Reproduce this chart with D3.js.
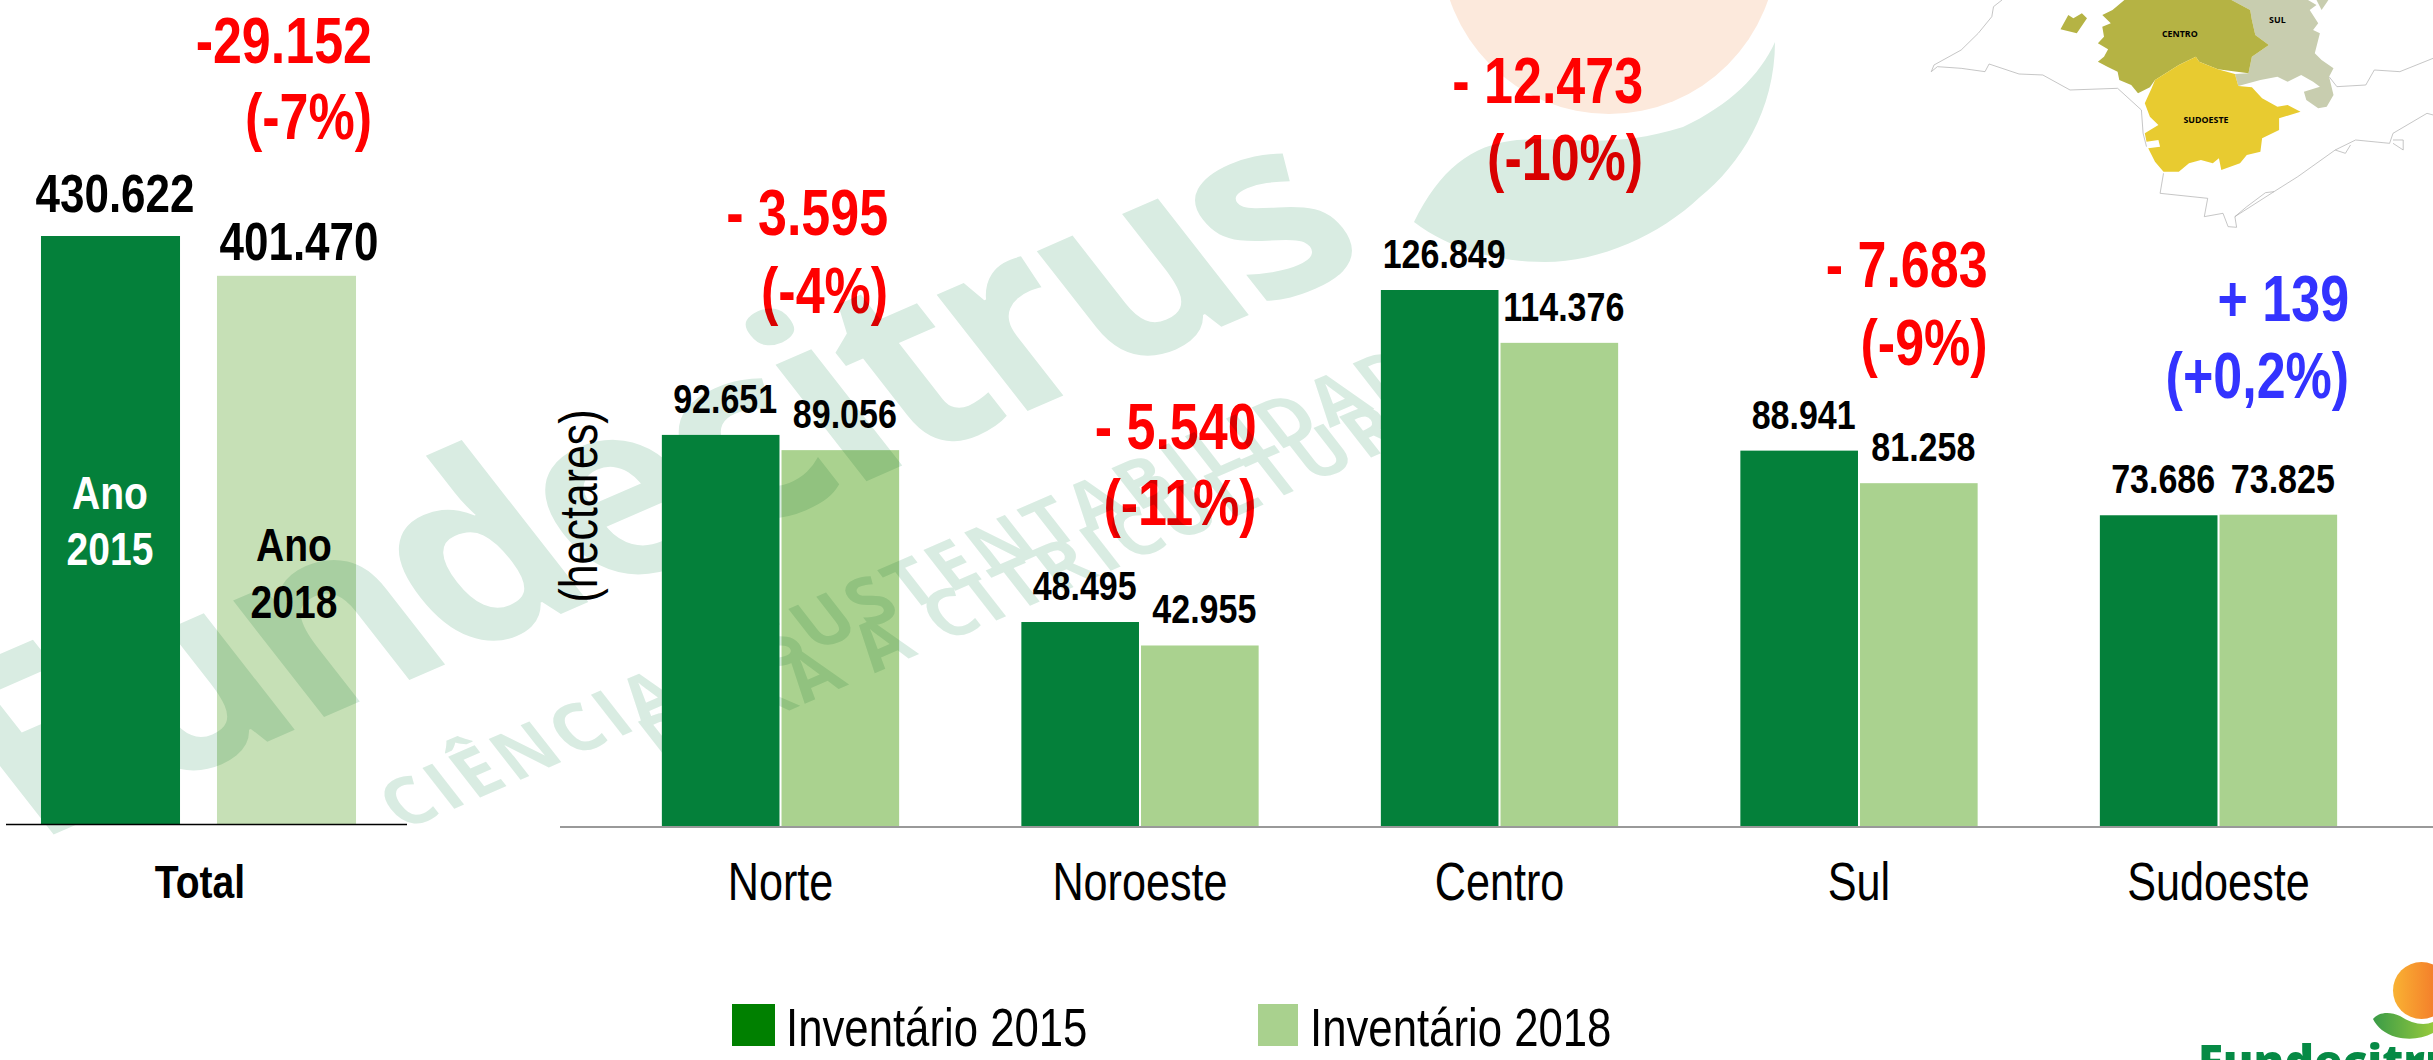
<!DOCTYPE html>
<html>
<head>
<meta charset="utf-8">
<script src="https://cdn.jsdelivr.net/npm/d3@7"></script>
<style>
  html, body { margin: 0; padding: 0; background: #fff; overflow: hidden; }
  text { font-family: "Liberation Sans", Arial, sans-serif; }
</style>
</head>
<body>
<script>
// the numbers
const totalCategories = ["Total"];
const regions = ["Norte", "Noroeste", "Centro", "Sul", "Sudoeste"];
const years = ["2015", "2018"];
const total2015 = [430622];
const total2018 = [401470];
const inventario2015 = [92651, 48495, 126849, 88941, 73686];
const inventario2018 = [89056, 42955, 114376, 81258, 73825];
const totalDelta = ["-29.152", "(-7%)"];
const regionDelta = ["- 3.595", "- 5.540", "- 12.473", "- 7.683", "+ 139"];
const regionPct = ["(-4%)", "(-11%)", "(-10%)", "(-9%)", "(+0,2%)"];
const legendLabels = ["Inventário 2015", "Inventário 2018"];

// where the delta labels sit, relative to the right end of each group
const deltaDx = [-12, -3, 24, 9, 11];
const deltaBase = [235, 449, 103, 287, 321];
const pctBase = [313, 525, 180, 365, 398];

const width = 2433, height = 1060;
const dark = "#04803a", lightTotal = "#c6e0b6", lightRegion = "#aad28f";
const wmColor = "#d9ece2";

const svg = d3.select("body").append("svg")
  .attr("width", width).attr("height", height)
  .style("display", "block").style("background", "#fff");

// text is narrow in the original, so squeeze it sideways
const label = (parent, txt, x, y, size, opts) => {
  opts = opts || {};
  return parent.append("text")
    .attr("transform", `translate(${x},${y}) scale(${opts.sx || 0.83},1)`)
    .attr("text-anchor", opts.anchor || "middle")
    .attr("font-size", size)
    .attr("font-weight", opts.weight || "bold")
    .attr("fill", opts.fill || "#000")
    .text(txt);
};

// scales
const x0Total = d3.scaleBand().domain(totalCategories).range([22.5, 374.5]);
const x1Total = d3.scaleBand().domain(years).range([0, x0Total.bandwidth()])
  .paddingInner(0.21).paddingOuter(0.105);
const yTotal = d3.scaleLinear().domain([0, 430622]).range([824, 236]);

const x0 = d3.scaleBand().domain(regions).range([600.75, 2398.25])
  .paddingInner(0.34).paddingOuter(0.17);
const x1 = d3.scaleBand().domain(years).range([0, x0.bandwidth()]).paddingInner(0.017);
const y = d3.scaleLinear().domain([0, 126849]).range([827.5, 290]);

const totalRows = [
  {year: "2015", value: total2015[0]},
  {year: "2018", value: total2018[0]}
];
const regionRows = regions.flatMap((r, i) => [
  {region: r, year: "2015", value: inventario2015[i]},
  {region: r, year: "2018", value: inventario2018[i]}
]);

// faded logo behind everything
const back = svg.append("g");
back.append("circle").attr("cx", 1609).attr("cy", -54).attr("r", 168).attr("fill", "#fce9dc");

// map, traced in crop pixels
const mapG = svg.append("g").attr("transform", "translate(1900,0) scale(0.34,0.3333)");
const shape = (pts, fill) => mapG.append("path")
  .attr("d", d3.line().curve(d3.curveLinearClosed)(pts)).attr("fill", fill);
const wire = (pts) => mapG.append("path")
  .attr("d", d3.line()(pts)).attr("fill", "none").attr("stroke", "#aaa").attr("stroke-width", 2);
wire([[92,215],[100,195],[180,150],[230,100],[270,50],[275,20],[300,0]]);
wire([[92,215],[110,200],[180,205],[250,215],[262,192],[350,222],[420,225],[500,270],[640,265],[710,330],[715,400],[725,440]]);
wire([[775,520],[765,580],[905,595],[895,650],[950,640],[965,680],[990,682],[985,650],[1100,575],[1170,530],[1280,450],[1340,420],[1440,430],[1450,400],[1550,340],[1568,345]]);
wire([[1262,230],[1285,260],[1370,255],[1395,210],[1470,215],[1568,175]]);
wire([[1450,430],[1480,450],[1480,420],[1450,420]]);
wire([[1280,450],[1310,460],[1325,435]]);
wire([[985,650],[1020,620],[1075,578],[1100,575]]);
shape([[975,0],[1030,30],[1035,60],[1045,105],[1085,135],[1035,170],[1025,220],[985,222],[995,258],[1060,240],[1110,230],[1140,245],[1180,225],[1215,245],[1235,260],[1188,275],[1195,300],[1230,325],[1255,320],[1275,285],[1262,230],[1275,205],[1240,180],[1220,160],[1235,100],[1215,90],[1230,70],[1205,30],[1225,15],[1200,0]], "#c8cdaf");
shape([[1225,0],[1260,0],[1240,30]], "#c8cdaf");
shape([[660,0],[625,30],[595,45],[620,70],[595,80],[600,110],[582,130],[612,148],[600,170],[582,185],[610,200],[640,215],[645,240],[680,255],[700,280],[735,262],[750,240],[820,195],[870,170],[880,185],[935,208],[1025,220],[1035,170],[1085,135],[1045,105],[1035,60],[1030,30],[975,0]], "#b5b344");
shape([[495,45],[510,55],[535,40],[550,55],[520,100],[472,88]], "#b5b344");
shape([[870,170],[880,185],[935,208],[985,222],[995,258],[1035,262],[1065,295],[1110,320],[1140,315],[1178,335],[1115,355],[1115,390],[1065,415],[1060,455],[1020,465],[1000,490],[945,510],[938,475],[920,490],[885,480],[850,490],[820,515],[775,515],[750,485],[730,445],[765,440],[760,420],[725,425],[720,400],[760,375],[735,350],[720,310],[740,265],[750,240],[820,195]], "#e8cb30");
[["CENTRO", 823, 111], ["SUL", 1110, 70], ["SUDOESTE", 900, 368]].forEach(d => {
  mapG.append("text").attr("x", d[1]).attr("y", d[2]).attr("text-anchor", "middle")
    .attr("font-size", 26).attr("font-weight", "bold")
    .style("font-family", "'Open Sans'").text(d[0]);
});

// light bars
svg.append("g").selectAll("rect").data(totalRows.filter(d => d.year == "2018")).enter().append("rect")
  .attr("x", d => x0Total("Total") + x1Total(d.year))
  .attr("y", d => yTotal(d.value))
  .attr("width", x1Total.bandwidth())
  .attr("height", d => yTotal(0) - yTotal(d.value))
  .attr("fill", lightTotal);
svg.append("g").selectAll("rect").data(regionRows.filter(d => d.year == "2018")).enter().append("rect")
  .attr("x", d => x0(d.region) + x1(d.year))
  .attr("y", d => y(d.value))
  .attr("width", x1.bandwidth())
  .attr("height", d => y(0) - y(d.value))
  .attr("fill", lightRegion);

// all the text that the watermark tints
const texts = svg.append("g");
const fmt = d3.format(",d");
const pt = v => fmt(v).replace(/,/g, ".");

label(texts, pt(total2015[0]), 115, 212, 53);
label(texts, pt(total2018[0]), 299, 260, 53);
label(texts, "Ano", 294, 561, 47);
label(texts, "2018", 294, 618, 47);
label(texts, totalDelta[0], 372, 62.5, 65, {anchor: "end", sx: 0.8, fill: "#ff0000"});
label(texts, totalDelta[1], 372, 139, 65, {anchor: "end", sx: 0.8, fill: "#ff0000"});

regionRows.forEach(d => {
  label(texts, pt(d.value), x0(d.region) + x1(d.year) + x1.bandwidth() / 2 + 4.5, y(d.value) - 22, 41);
});
regions.forEach((r, i) => {
  const right = x0(r) + x0.bandwidth() + deltaDx[i];
  const c = regionDelta[i][0] == "+" ? "#3333ff" : "#ff0000";
  label(texts, regionDelta[i], right + 1, deltaBase[i], 65, {anchor: "end", sx: 0.8, fill: c});
  label(texts, regionPct[i], right + 1, pctBase[i], 65, {anchor: "end", sx: 0.8, fill: c});
});

label(texts, "(hectares)", 0, 0, 53, {weight: "normal"})
  .attr("transform", "translate(597,506) rotate(-90) scale(0.81,1)");

// x axes
const axisTotal = svg.append("g").attr("transform", "translate(0,824)")
  .call(d3.axisBottom(x0Total).tickSize(0));
axisTotal.select(".domain").remove();
axisTotal.selectAll("text")
  .attr("y", 74.5).attr("dy", 0).attr("fill", "#000")
  .attr("font-size", 47).attr("font-weight", "bold")
  .attr("transform", "translate(1.5,0) scale(0.83,1)");

const axisRegions = svg.append("g").attr("transform", "translate(0,827)")
  .call(d3.axisBottom(x0).tickSize(0));
axisRegions.select(".domain").remove();
axisRegions.selectAll("text")
  .attr("y", 73).attr("dy", 0).attr("fill", "#000")
  .attr("font-size", 53)
  .attr("transform", "scale(0.815,1)");

// legend
const legend = svg.append("g");
[[732, 43, "#008000", 786], [1258, 40, "#a9d18e", 1310]].forEach((d, i) => {
  legend.append("rect").attr("x", d[0]).attr("y", 1004).attr("width", d[1]).attr("height", 42).attr("fill", d[2]);
  label(legend, legendLabels[i], d[3], 1046, 53, {anchor: "start", weight: "normal", sx: 0.825});
});

// watermark goes on top of the light stuff
const wm = svg.append("g").style("mix-blend-mode", "multiply");
const tilt = "rotate(-23.5) skewX(14.5)";
const wmText = (txt, x, yy, size, weight, spacing) => wm.append("text")
  .attr("transform", `translate(${x},${yy}) ${tilt}`)
  .attr("font-size", size).attr("font-weight", weight)
  .attr("letter-spacing", spacing)
  .attr("fill", wmColor)
  .style("font-family", "'Open Sans'")
  .text(txt);
wmText("Fundecitrus", 32, 844, 262, 700, -9);
wmText("CIÊNCIA E SUSTENTABILIDADE", 403, 831, 70, 700, 5);
wmText("PARA A CITRICULTURA", 664, 765, 70, 700, 5);
wm.append("path")
  .attr("d", "M1414,222 C1440,170 1470,145 1517,140 C1570,136 1610,150 1683,127 C1730,105 1760,75 1775,42 C1775,110 1740,165 1700,197 C1660,235 1600,262 1545,262 C1500,262 1450,250 1414,222 Z")
  .attr("fill", wmColor);

// dark bars sit over the watermark
svg.append("g").selectAll("rect").data(totalRows.filter(d => d.year == "2015")).enter().append("rect")
  .attr("x", d => x0Total("Total") + x1Total(d.year))
  .attr("y", d => yTotal(d.value))
  .attr("width", x1Total.bandwidth())
  .attr("height", d => yTotal(0) - yTotal(d.value))
  .attr("fill", dark);
svg.append("g").selectAll("rect").data(regionRows.filter(d => d.year == "2015")).enter().append("rect")
  .attr("x", d => x0(d.region) + x1(d.year))
  .attr("y", d => y(d.value))
  .attr("width", x1.bandwidth())
  .attr("height", d => y(0) - y(d.value))
  .attr("fill", dark);
label(svg, "Ano", 110, 509, 47, {fill: "#fff"});
label(svg, "2015", 110, 565, 47, {fill: "#fff"});

// baselines
svg.append("line").attr("x1", 6).attr("x2", 407).attr("y1", 824.5).attr("y2", 824.5)
  .attr("stroke", "#000").attr("stroke-width", 1.5);
svg.append("line").attr("x1", 560).attr("x2", width).attr("y1", 827).attr("y2", 827)
  .attr("stroke", "#999").attr("stroke-width", 2);

// logo, bottom right corner
const defs = svg.append("defs");
const grad = (id, a, b) => {
  const g = defs.append("linearGradient").attr("id", id);
  g.append("stop").attr("offset", "0%").attr("stop-color", a);
  g.append("stop").attr("offset", "100%").attr("stop-color", b);
};
grad("sun", "#f9b233", "#f26c28");
grad("leaf", "#3a9b47", "#95c93d");
svg.append("circle").attr("cx", 2421.5).attr("cy", 990.5).attr("r", 28.5).attr("fill", "url(#sun)");
svg.append("path")
  .attr("d", "M2373,1019 C2378,1012 2390,1011 2400,1016 C2412,1024 2424,1026 2433,1022 L2433,1033 C2422,1039 2408,1040 2396,1037 C2385,1034 2377,1027 2373,1019 Z")
  .attr("fill", "url(#leaf)");
svg.append("text").attr("x", 2198).attr("y", 1078).attr("font-size", 46).attr("font-weight", 800)
  .attr("fill", "#068a45").style("font-family", "'Open Sans'").text("Fundecitrus");
</script>
</body>
</html>
